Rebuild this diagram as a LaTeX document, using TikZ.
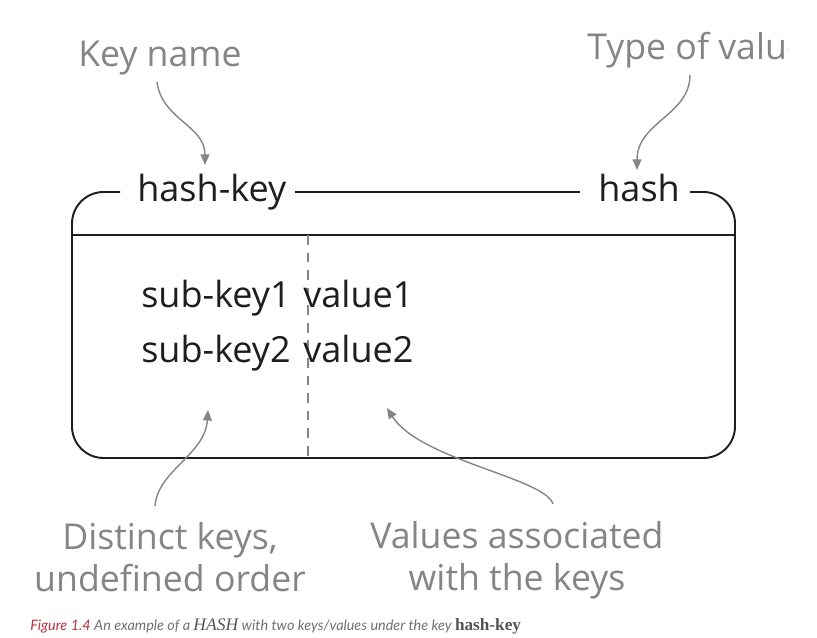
\documentclass[tikz,border=0pt]{standalone}
\usepackage{fontspec}
\setmainfont{Open Sans}
\newfontfamily\capfont{Lato}
\newfontfamily\capserif{Liberation Serif}
\usetikzlibrary{arrows.meta}
\definecolor{notegray}{HTML}{858585}
\definecolor{inkblack}{HTML}{1E1E1E}
\definecolor{figred}{HTML}{B8323F}
\definecolor{capgray}{HTML}{707070}
\tikzset{
  frame/.style={line width=1.1pt, inkblack, rounded corners=18pt},
  divider/.style={line width=1pt, inkblack},
  split/.style={line width=0.8pt, notegray, dash pattern=on 5.5pt off 4.5pt},
  pointer/.style={-{Triangle[length=6pt,width=5pt]}, line width=0.8pt, notegray},
  note/.style={text=notegray, font=\fontsize{20.3}{23.8}\selectfont, align=center, inner sep=0pt},
  field/.style={text=inkblack, font=\fontsize{20.5}{24}\selectfont, inner sep=0pt},
}

\begin{document}
\begin{tikzpicture}[x=0.02cm, y=-0.02cm]
  \useasboundingbox (0,0) rectangle (817,638);

  % Header of the hash
  \node[field, anchor=base west] (hashkey) at (137,202) {hash-key};
  \node[field, anchor=base west] (hashtype) at (598,202) {hash};

  % Frame, divider and split
  \draw[frame] (120,192) -- (72,192) -- (72,458) -- (735,458) -- (735,192) -- (690,192);
  \draw[divider] (295,192) -- (580,192);
  \draw[divider] (72,235) -- (735,235);
  \draw[split] (308,235) -- (308,458);

  % Entries
  \node[field, anchor=base east] (subkeyA) at (291,307) {sub-key1};
  \node[field, anchor=base west] (valueA) at (303,307) {value1};
  \node[field, anchor=base east] (subkeyB) at (291,362) {sub-key2};
  \node[field, anchor=base west] (valueB) at (303,362) {value2};

  % Notes
  \node[note, anchor=base] (keyname) at (160,67) {Key name};
  \begin{scope}
    \clip (560,0) rectangle (788,120);
    \node[note, anchor=base west] (valuetype) at (587,60) {Type of value};
  \end{scope}
  \node[note, anchor=north] (distinct) at (170,522) {Distinct keys,\\undefined order};
  \node[note, anchor=north] (associated) at (517,521) {Values associated\\with the keys};

  % Pointers
  \coordinate (keyname tip) at (205,165);
  \coordinate (valuetype tip) at (637,170);
  \coordinate (distinct tip) at (208,410);
  \coordinate (associated tip) at (387,408);
  \draw[pointer] ([shift={(-3,15)}]keyname.base) .. controls (162,120) and (205,125) .. (keyname tip);
  \draw[pointer] ([shift={(103,15)}]valuetype.base west) .. controls (690,115) and (637,122) .. (valuetype tip);
  \draw[pointer] ([shift={(-15,-16)}]distinct.north) .. controls (158,470) and (205,455) .. (distinct tip);
  \draw[pointer] ([shift={(36,-17)}]associated.north) .. controls (545,478) and (420,460) .. (associated tip);

  % Caption
  \node[anchor=base west, inner sep=0pt, font=\fontsize{8.2}{10}\selectfont] (caption) at (30,630)
    {\capfont\itshape\textcolor{figred}{Figure 1.4} \textcolor{capgray}{An example of a}
     {\capserif\fontsize{10}{12}\selectfont\color{capgray!75!black}HASH}
     \textcolor{capgray}{with two keys/values under the key}
     {\capserif\upshape\bfseries\fontsize{9.8}{12}\selectfont\color{capgray!75!black}hash-key}};
\end{tikzpicture}
\end{document}
